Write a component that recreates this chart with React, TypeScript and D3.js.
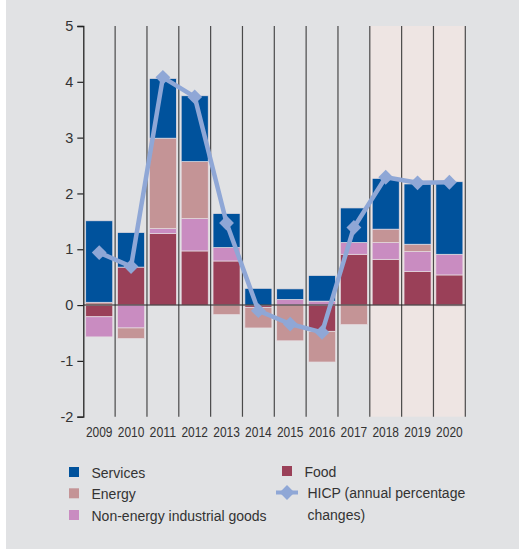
import React, { useEffect, useRef } from 'react';
import * as d3 from 'd3';

// contributions to HICP inflation (percentage points)
const years = ['2009', '2010', '2011', '2012', '2013', '2014', '2015', '2016', '2017', '2018', '2019', '2020'];
const food = [-0.21, 0.68, 1.28, 0.97, 0.79, -0.04, 0.0, -0.47, 0.91, 0.82, 0.6, 0.54];
const neig = [-0.36, -0.41, 0.09, 0.58, 0.24, 0.0, 0.1, 0.07, 0.21, 0.3, 0.36, 0.37];
const energy = [0.05, -0.19, 1.62, 1.02, -0.17, -0.37, -0.64, -0.55, -0.35, 0.24, 0.13, -0.02];
const services = [1.46, 0.62, 1.07, 1.18, 0.61, 0.3, 0.19, 0.46, 0.62, 0.91, 1.08, 1.3];
const hicp = [0.94, 0.69, 4.08, 3.73, 1.47, -0.1, -0.34, -0.49, 1.39, 2.29, 2.19, 2.2];
const projectionYears = ['2018', '2019', '2020'];
const yTicks = [-2, -1, 0, 1, 2, 3, 4, 5];

const seriesKeys = ['food', 'neig', 'energy', 'services'];
const colors: Record<string, string> = {
  food: '#9a4058',
  neig: '#c98cc1',
  energy: '#c49496',
  services: '#00529c',
};
const lineColor = '#8fa7d6';

const width = 519;
const height = 551;
const left = 83.3;
const right = 465.3;
const top = 26;
const bottom = 416.7;
const font = '"Liberation Sans", Arial, sans-serif';

export default function App() {
  const ref = useRef<SVGSVGElement>(null);

  useEffect(() => {
    const svg = d3.select(ref.current);
    svg.selectAll('*').remove();

    const rows = years.map((y, i) => ({
      year: y,
      food: food[i],
      neig: neig[i],
      energy: energy[i],
      services: services[i],
    }));

    const x = d3.scaleBand().domain(years).range([left, right]).padding(0);
    const y = d3.scaleLinear().domain([-2, 5]).range([bottom, top]);

    // background
    svg.append('rect').attr('x', 0).attr('y', 0).attr('width', width).attr('height', height).attr('fill', '#ffffff');
    svg.append('rect').attr('x', 6).attr('y', 0).attr('width', width - 6).attr('height', 549).attr('fill', '#e1e2e4');

    // projection shading
    const p0 = x(projectionYears[0]) as number;
    svg
      .append('rect')
      .attr('x', p0)
      .attr('y', top)
      .attr('width', right - p0)
      .attr('height', bottom - top)
      .attr('fill', '#eee5e3');

    // vertical separators
    const edges = years.map((yr) => (x(yr) as number) + x.bandwidth());
    svg
      .append('g')
      .selectAll('line')
      .data(edges)
      .enter()
      .append('line')
      .attr('x1', (d) => d)
      .attr('x2', (d) => d)
      .attr('y1', top)
      .attr('y2', bottom)
      .attr('stroke', '#4a4a4a')
      .attr('stroke-width', 1.2);

    // stacked bars
    const stack = d3
      .stack<any>()
      .keys(seriesKeys)
      .offset(d3.stackOffsetDiverging);
    const stacked = stack(rows);
    const inset = 2.4;

    svg
      .append('g')
      .selectAll('g')
      .data(stacked)
      .enter()
      .append('g')
      .attr('fill', (s) => colors[s.key])
      .selectAll('rect')
      .data((s) => s)
      .enter()
      .append('rect')
      .attr('x', (d) => (x(d.data.year) as number) + inset)
      .attr('width', x.bandwidth() - 2 * inset)
      .attr('y', (d) => y(Math.max(d[0], d[1])))
      .attr('height', (d) => Math.abs(y(d[0]) - y(d[1])))
      .attr('stroke', '#e6dde2')
      .attr('stroke-width', 0.7);

    // y axis
    const yAxis = d3
      .axisLeft(y)
      .tickValues(yTicks)
      .tickSize(6)
      .tickPadding(4)
      .tickFormat((d) => String(d));
    const gy = svg
      .append('g')
      .attr('transform', 'translate(' + left + ',0)')
      .call(yAxis);
    gy.select('.domain').attr('stroke', '#222').attr('stroke-width', 1.3);
    gy.selectAll('.tick line').attr('stroke', '#222').attr('stroke-width', 1.2);
    gy.selectAll('.tick text')
      .attr('fill', '#333')
      .style('font-family', font)
      .style('font-size', '14.5px');

    // zero line
    svg
      .append('line')
      .attr('x1', left)
      .attr('x2', right)
      .attr('y1', y(0))
      .attr('y2', y(0))
      .attr('stroke', '#222')
      .attr('stroke-width', 1.1);

    // x labels (condensed face)
    svg
      .append('g')
      .selectAll('text')
      .data(years)
      .enter()
      .append('text')
      .attr('x', (d) => (x(d) as number) + x.bandwidth() / 2 - 13.3)
      .attr('y', 436.5)
      .attr('textLength', 26.6)
      .attr('lengthAdjust', 'spacingAndGlyphs')
      .attr('fill', '#333')
      .style('font-family', font)
      .style('font-size', '14.5px')
      .text((d) => d);

    // HICP line
    const line = d3
      .line<number>()
      .x((d, i) => (x(years[i]) as number) + x.bandwidth() / 2)
      .y((d) => y(d));
    svg
      .append('path')
      .datum(hicp)
      .attr('d', line)
      .attr('fill', 'none')
      .attr('stroke', lineColor)
      .attr('stroke-width', 4.5)
      .attr('stroke-linejoin', 'round');

    const diamond = d3.symbol().type(d3.symbolDiamond2).size(140);
    svg
      .append('g')
      .selectAll('path')
      .data(hicp)
      .enter()
      .append('path')
      .attr('d', diamond)
      .attr('transform', (d, i) => 'translate(' + ((x(years[i]) as number) + x.bandwidth() / 2) + ',' + y(d) + ')')
      .attr('fill', lineColor);

    // legend
    const legend = svg.append('g').style('font-family', font).style('font-size', '14px').attr('fill', '#333');
    const items = [
      { label: 'Services', key: 'services', x: 69, y: 467 },
      { label: 'Energy', key: 'energy', x: 69, y: 488.3 },
      { label: 'Non-energy industrial goods', key: 'neig', x: 69, y: 510 },
      { label: 'Food', key: 'food', x: 282, y: 466 },
    ];
    items.forEach((it) => {
      legend
        .append('rect')
        .attr('x', it.x)
        .attr('y', it.y)
        .attr('width', 10)
        .attr('height', 10)
        .attr('fill', colors[it.key]);
      legend
        .append('text')
        .attr('x', it.x + 22.5)
        .attr('y', it.y + 10.8)
        .text(it.label);
    });
    legend
      .append('line')
      .attr('x1', 276)
      .attr('x2', 298)
      .attr('y1', 492.5)
      .attr('y2', 492.5)
      .attr('stroke', lineColor)
      .attr('stroke-width', 4);
    legend
      .append('path')
      .attr('d', diamond)
      .attr('transform', 'translate(287,492.5)')
      .attr('fill', lineColor);
    legend.append('text').attr('x', 307.5).attr('y', 498).text('HICP (annual percentage');
    legend.append('text').attr('x', 307.5).attr('y', 520).text('changes)');
  }, []);

  return (
    <svg
      ref={ref}
      width={width}
      height={height}
      style={{ position: 'absolute', left: 0, top: 0, display: 'block' }}
    />
  );
}
